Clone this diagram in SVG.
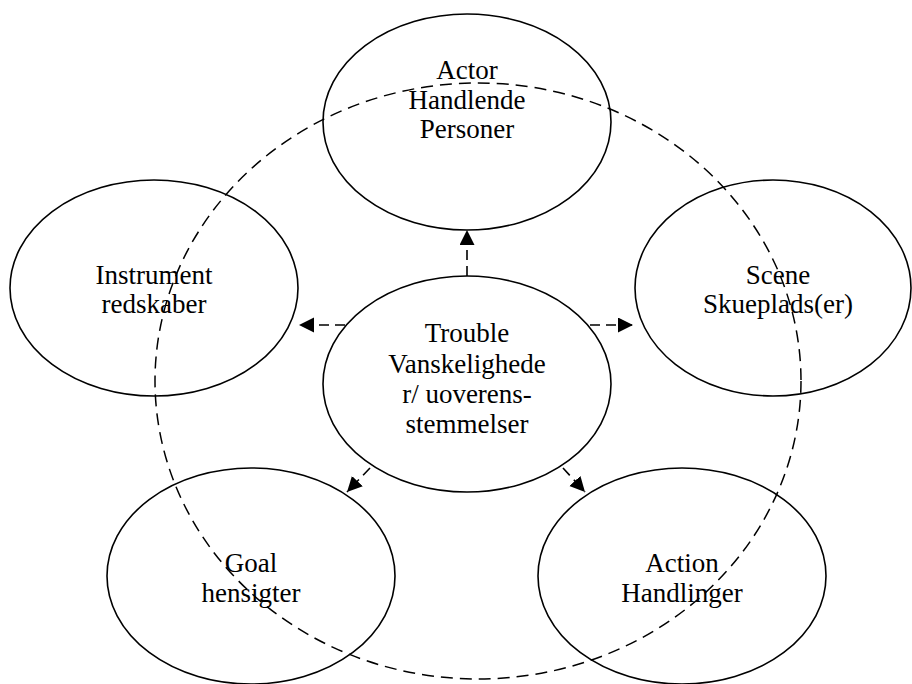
<svg xmlns="http://www.w3.org/2000/svg" width="912" height="684" viewBox="0 0 912 684">
<style>
.node{fill:none;stroke:#000;stroke-width:1.6}
.lbl{font-family:"Liberation Serif","Times New Roman",serif;font-size:27px;fill:#000;text-anchor:middle}
.dash{fill:none;stroke:#000;stroke-width:1.5;stroke-dasharray:12 7}
.conn{fill:none;stroke:#000;stroke-width:1.6;stroke-dasharray:10 6}
</style>
<defs>
<marker id="ah" markerUnits="userSpaceOnUse" markerWidth="16" markerHeight="16" refX="15" refY="7.5" orient="auto">
<path d="M0,0 L15,7.5 L0,15 Z" fill="#000"/>
</marker>
</defs>
<rect width="912" height="684" fill="#fff"/>
<g id="actor">
<ellipse class="node" cx="467" cy="122" rx="144" ry="108"/>
<text class="lbl" x="467" y="79">Actor</text>
<text class="lbl" x="467" y="109">Handlende</text>
<text class="lbl" x="467" y="138">Personer</text>
</g>
<g id="instrument">
<ellipse class="node" cx="154" cy="288" rx="144" ry="108"/>
<text class="lbl" x="154" y="284">Instrument</text>
<text class="lbl" x="154" y="313">redskaber</text>
</g>
<g id="scene">
<ellipse class="node" cx="773" cy="288" rx="138" ry="108"/>
<text class="lbl" x="778" y="284">Scene</text>
<text class="lbl" x="778" y="313">Skueplads(er)</text>
</g>
<g id="trouble">
<ellipse class="node" cx="467" cy="384" rx="144" ry="108"/>
<text class="lbl" x="467" y="342">Trouble</text>
<text class="lbl" x="467" y="373">Vanskelighede</text>
<text class="lbl" x="467" y="403">r/ uoverens-</text>
<text class="lbl" x="467" y="433">stemmelser</text>
</g>
<g id="goal">
<ellipse class="node" cx="251" cy="576" rx="144" ry="108"/>
<text class="lbl" x="251" y="572">Goal</text>
<text class="lbl" x="251" y="602">hensigter</text>
</g>
<g id="action">
<ellipse class="node" cx="682" cy="576" rx="144" ry="108"/>
<text class="lbl" x="682" y="572">Action</text>
<text class="lbl" x="682" y="602">Handlinger</text>
</g>
<g id="boundary">
<ellipse class="dash" cx="478" cy="381" rx="323" ry="298"/>
</g>
<g id="connectors">
<line class="conn" x1="467" y1="276" x2="467" y2="230" marker-end="url(#ah)"/>
<line class="conn" x1="345" y1="325" x2="299" y2="325" marker-end="url(#ah)"/>
<line class="conn" x1="590" y1="325" x2="633" y2="325" marker-end="url(#ah)"/>
<line class="conn" x1="370" y1="468" x2="347" y2="492" marker-end="url(#ah)"/>
<line class="conn" x1="563" y1="468" x2="585" y2="492" marker-end="url(#ah)"/>
</g>
</svg>
